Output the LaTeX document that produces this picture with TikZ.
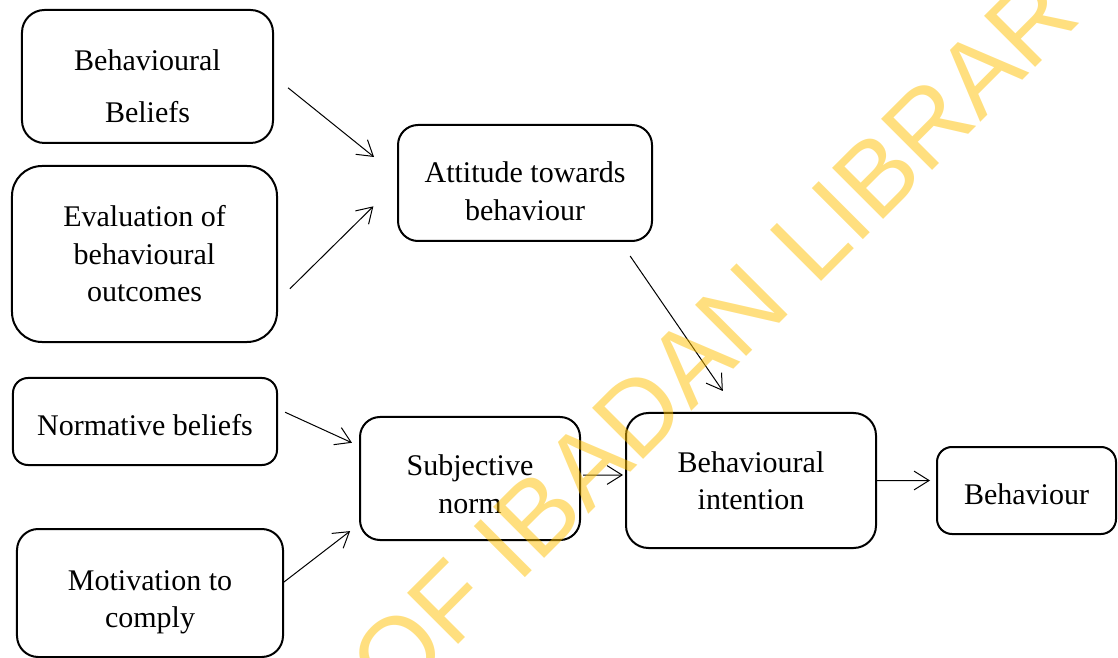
\documentclass[tikz,border=0pt]{standalone}
\usepackage{fontspec}
\setmainfont{Liberation Serif}
\newfontfamily\wmfont{Liberation Sans}
\usetikzlibrary{arrows.meta}
\definecolor{wmyellow}{RGB}{255,192,0}

\begin{document}
\begin{tikzpicture}[x=0.4pt, y=-0.4pt,
    box/.style={draw, line width=0.8pt, rounded corners=8pt, align=center,
      font=\fontsize{12}{15}\selectfont, inner sep=0pt},
    >={Straight Barb[length=6pt,width=7.5pt]}]
    \useasboundingbox (0,0) rectangle (1118,658);

    \node[box, minimum width=100.4pt, minimum height=53.2pt, rounded corners=9pt] (bel) at (147.5,76.5) {\rule{0pt}{16pt}Behavioural\\[5.6pt] Beliefs};
    \node[box, minimum width=106pt, minimum height=70.4pt, rounded corners=12pt] (eva) at (144.5,254) {Evaluation of\\ behavioural\\ outcomes};
    \node[box, minimum width=101.6pt, minimum height=46.4pt] (att) at (525,183) {\rule{0pt}{15pt}Attitude towards\\ behaviour};
    \node[box, minimum width=105.6pt, minimum height=34.8pt, rounded corners=6pt] (nor) at (145,421.5) {\rule{0pt}{11.5pt}Normative beliefs};
    \node[box, minimum width=106.4pt, minimum height=51.2pt, rounded corners=8.5pt] (mot) at (150,593) {\rule{0pt}{15.5pt}Motivation to\\ comply};
    \node[box, minimum width=88pt, minimum height=49.2pt] (sub) at (470,478.5) {\rule{0pt}{13.1pt}Subjective\\ norm};
    \node[box, minimum width=100pt, minimum height=54pt, rounded corners=9pt] (int) at (751,480.5) {Behavioural\\ intention};
    \node[box, minimum width=71.6pt, minimum height=34.8pt, rounded corners=6pt] (beh) at (1026.5,490.5) {\rule{0pt}{11.5pt}Behaviour};

    \draw[->, shorten <=7.2pt, shorten >=11.8pt] (bel.east) -- ([yshift=3pt]att.west);
    \draw[->, shorten <=6.7pt, shorten >=13.3pt] ([yshift=-18.6pt]eva.east) -- (att.west);
    \draw[->, shorten <=6.8pt, shorten >=10.2pt] ([xshift=38.2pt]att.south) -- ([xshift=-5.5pt]int.north);
    \draw[->, shorten <=3.1pt, shorten >=3.1pt] ([yshift=5pt]nor.east) -- ([yshift=13pt]sub.west);
    \draw[->, shorten >=4.5pt] ([yshift=4.4pt]mot.east) -- ([yshift=-18.3pt]sub.west);
    \draw[->, shorten <=0.8pt, shorten >=0.8pt] ([yshift=1.4pt]sub.east) -- ([yshift=2.2pt]int.west);
    \draw[->, shorten >=2.4pt] (int.east) -- ([yshift=4pt]beh.west);

    % watermark
    \begin{scope}
      \clip (0,0) rectangle (1118,658);
      \coordinate (wm) at (394,709);
      \node[anchor=base west, rotate=45, inner sep=0pt, text=wmyellow, text opacity=0.5,
        font=\wmfont\fontsize{42}{42}\selectfont] (mark) at (wm) {OF IBADAN LIBRARY};
    \end{scope}
\end{tikzpicture}
\end{document}
